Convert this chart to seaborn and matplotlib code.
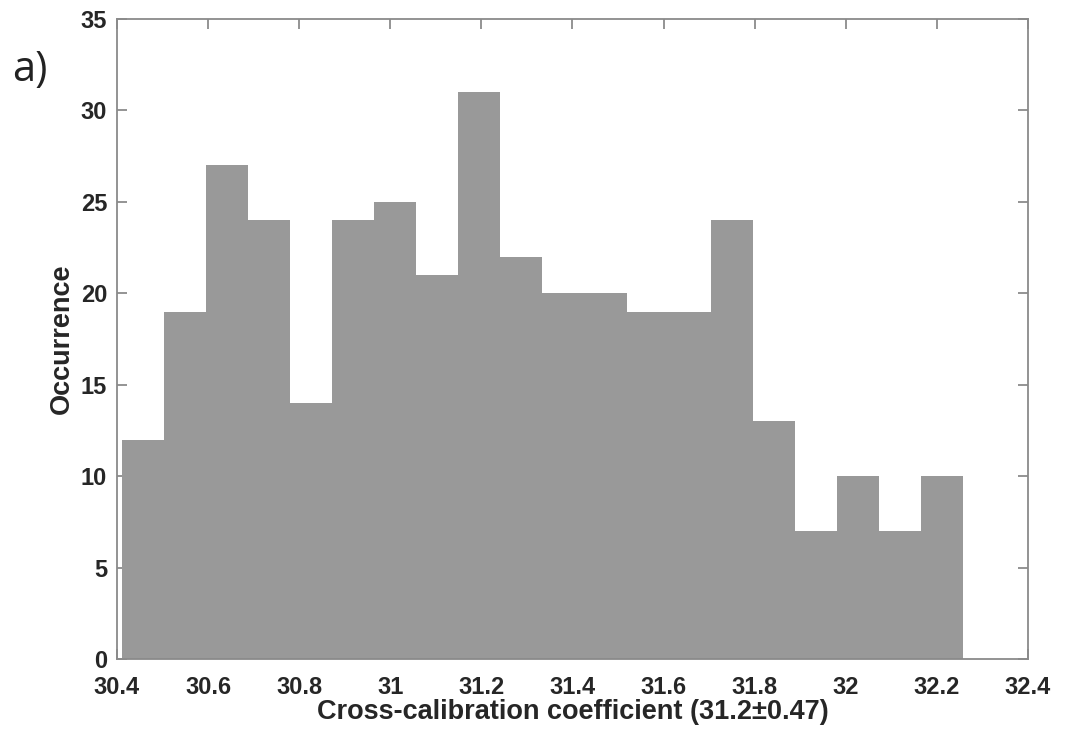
import numpy as np
import pandas as pd
import matplotlib
matplotlib.use("Agg")
import matplotlib.pyplot as plt
import seaborn as sns

# Data
bin_start = 30.411
bin_end = 32.257
counts = [12, 19, 27, 24, 14, 24, 25, 21, 31, 22, 20, 20, 19, 19, 24, 13, 7, 10, 7, 10]
x_ticks = [30.4, 30.6, 30.8, 31.0, 31.2, 31.4, 31.6, 31.8, 32.0, 32.2, 32.4]
y_ticks = [0, 5, 10, 15, 20, 25, 30, 35]
x_label = "Cross-calibration coefficient (31.2\u00b10.47)"
y_label = "Occurrence"
panel_label = "a)"

edges = np.linspace(bin_start, bin_end, len(counts) + 1)
centers = (edges[:-1] + edges[1:]) / 2
df = pd.DataFrame({"coef": centers, "n": np.array(counts, dtype=float)})

sns.set_style("white")
plt.rcParams['font.family'] = ['Liberation Sans', 'DejaVu Sans']

fig = plt.figure(figsize=(10.77, 7.38), dpi=100)
ax = fig.add_axes([0.1086, 0.1070, 0.8459, 0.8673])

sns.histplot(data=df, x="coef", weights="n", bins=list(edges), color="#999999",
             alpha=1.0, edgecolor="none", linewidth=0, ax=ax)

ax.set_xlim(30.4, 32.4)
ax.set_ylim(0, 35)
ax.set_xticks(x_ticks)
ax.set_xticklabels([f"{v:g}" for v in x_ticks])
ax.set_yticks(y_ticks)
ax.set_yticklabels([str(v) for v in y_ticks])

for s in ax.spines.values():
    s.set_visible(True)
    s.set_color("#8a8a8a")
    s.set_linewidth(1.3)

ax.tick_params(axis='both', which='both', direction='in', length=7, width=1.1,
               color="#777777", top=True, right=True, bottom=True, left=True,
               labelsize=17, labelcolor="#262626")
ax.tick_params(axis='x', pad=12.5)
ax.tick_params(axis='y', pad=7)
for lbl in ax.get_xticklabels() + ax.get_yticklabels():
    lbl.set_fontweight("bold")

ax.set_xlabel(x_label, fontsize=19.5, fontweight="bold", color="#262626", labelpad=0)
ax.set_ylabel(y_label, fontsize=19.5, fontweight="bold", color="#262626", labelpad=4.5)

fig.text(0.011, 0.905, panel_label, fontsize=30, family=["Open Sans", "DejaVu Sans"],
         color="#222222", ha="left", va="center")

fig.savefig("out.png", dpi=100)
